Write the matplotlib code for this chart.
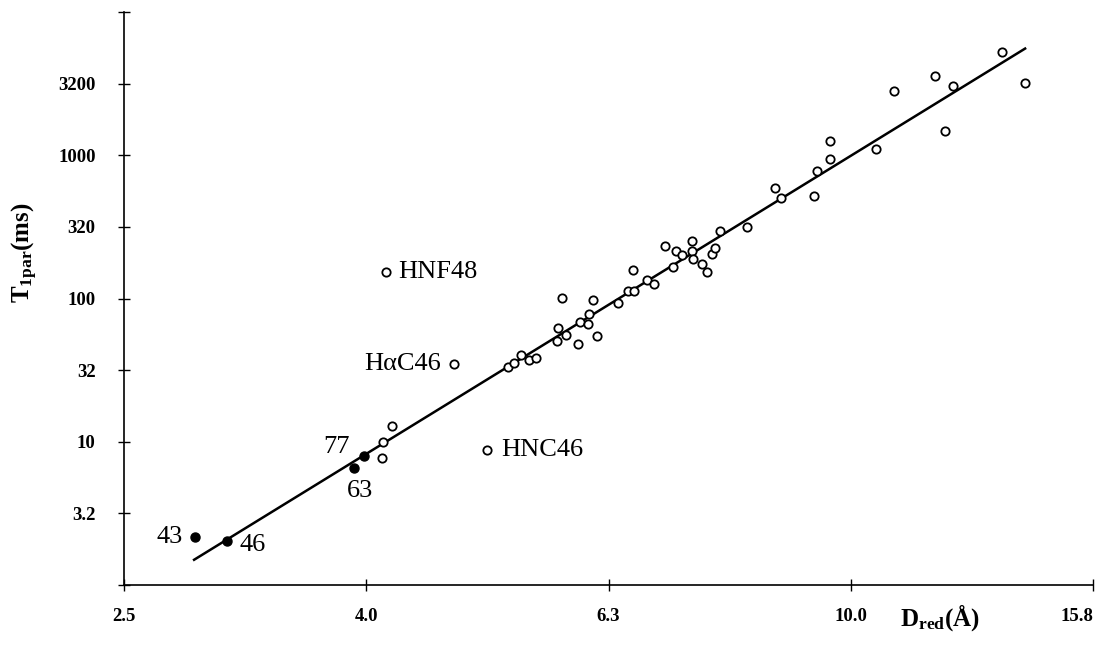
import numpy as np
import matplotlib
matplotlib.use("Agg")
import matplotlib.pyplot as plt

plt.rcParams['font.family'] = ['Liberation Serif', 'DejaVu Serif']
plt.rcParams['mathtext.fontset'] = 'custom'
plt.rcParams['mathtext.rm'] = 'Liberation Serif'
plt.rcParams['mathtext.bf'] = 'Liberation Serif:bold'
plt.rcParams['mathtext.it'] = 'Liberation Serif:italic'

# Open circles: D_red (A) vs T1par (ms)
d_open = [4.10, 4.11, 4.18, 4.13, 4.70, 5.01, 5.21, 5.27, 5.34, 5.42,
          5.50, 5.72, 5.73, 5.78, 5.82, 5.95, 5.98, 6.07, 6.08, 6.13,
          6.17, 6.43, 6.55, 6.61, 6.62, 6.79, 6.88, 7.03, 7.13, 7.17,
          7.26, 7.40, 7.40, 7.41, 7.54, 7.61, 7.68, 7.73, 7.80, 8.21,
          8.66, 8.76, 9.33, 9.38, 9.62, 9.62, 10.50, 10.86, 11.74, 11.97,
          12.15, 13.34, 13.93]
t_open = [7.65, 9.90, 12.8, 154, 34.9, 8.71, 33.2, 35.5, 40.4, 37.2,
          38.5, 50.6, 62.4, 101, 55.7, 48.2, 68.8, 66.6, 78.2, 98.1,
          54.8, 93.5, 113, 157, 113, 135, 127, 231, 167, 216,
          200, 250, 216, 190, 175, 154, 206, 224, 294, 314,
          589, 501, 517, 775, 940, 1259, 1105, 2820, 3590, 1479,
          3055, 5292, 3208]

# labelled outliers (index into the open series)
outlier_idx = [3, 4, 5]
outlier_names = ['HNF48', 'H\u03b1C46', 'HNC46']

# Filled circles
d_filled = [2.875, 3.056, 3.89, 3.965]
t_filled = [2.17, 2.04, 6.51, 7.90]
filled_names = ['43', '46', '63', '77']

# fitted line end points
fit_d = [2.87, 13.93]
fit_t = [1.50, 5556]

x_ticks = [2.512, 3.981, 6.310, 10.0, 15.849]
x_labels = ['2.5', '4.0', '6.3', '10.0', '15.8']
y_ticks = [1, 3.162, 10, 31.62, 100, 316.2, 1000, 3162, 10000]
y_labels = ['', '3.2', '10', '32', '100', '320', '1000', '3200', '']

fig = plt.figure(figsize=(10.98, 6.46), dpi=100)
ax = fig.add_axes([124 / 1098, 1 - 585 / 646, 969 / 1098, 573 / 646])

ax.plot(fit_d, fit_t, color='black', lw=1.8, zorder=2)
ax.plot(d_open, t_open, 'o', ms=6, mfc='white', mec='black', mew=1.3, zorder=3)
ax.plot(d_filled, t_filled, 'o', ms=6.5, color='black', zorder=4)

ax.set_xscale('log')
ax.set_yscale('log')
ax.set_xlim(x_ticks[0], x_ticks[-1])
ax.set_ylim(y_ticks[0], y_ticks[-1])
ax.minorticks_off()
ax.set_xticks(x_ticks)
ax.set_xticklabels(x_labels)
ax.set_yticks(y_ticks)
ax.set_yticklabels(y_labels)
ax.tick_params(direction='inout', length=9, width=1, labelsize=13.5)
ax.tick_params(axis='x', pad=12)
ax.tick_params(axis='y', pad=16)
for lab in ax.get_xticklabels() + ax.get_yticklabels():
    lab.set_fontweight('bold')
ax.get_xticklabels()[-1].set_horizontalalignment('right')

for s in ['top', 'right']:
    ax.spines[s].set_visible(False)
for s in ['left', 'bottom']:
    ax.spines[s].set_linewidth(1.2)

# point labels
lab_font = 19
offsets = {'43': (-9, 0, 'right'), '46': (9, -3, 'left'),
           '63': (4, -16, 'center'), '77': (-10, 7, 'right')}
for d, t, name in zip(d_filled, t_filled, filled_names):
    dx, dy, ha = offsets[name]
    ax.annotate(name, (d, t), xytext=(dx, dy), textcoords='offset points',
                ha=ha, va='center', fontsize=lab_font)

out_off = [(9, 'left'), (-9, 'right'), (10, 'left')]
for i, name, (dx, ha) in zip(outlier_idx, outlier_names, out_off):
    ax.annotate(name, (d_open[i], t_open[i]), xytext=(dx, 0),
                textcoords='offset points', ha=ha, va='center', fontsize=lab_font)

ax.set_ylabel(r'$\mathbf{T_{1par}(ms)}$', fontsize=18)
ax.yaxis.set_label_coords(-0.087, 0.58)
ax.set_xlabel(r'$\mathbf{D_{red}(\AA)}$', fontsize=18)
ax.xaxis.set_label_coords(0.842, -0.03)

fig.savefig('out.png', dpi=100)
